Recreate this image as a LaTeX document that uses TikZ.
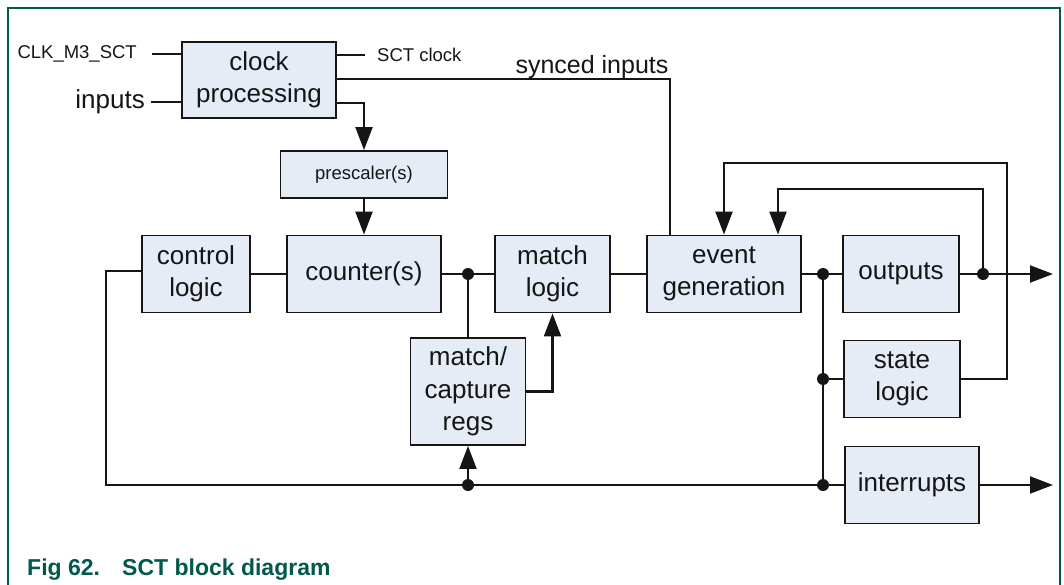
\documentclass[tikz,border=0pt]{standalone}
\usepackage{fontspec}
\setmainfont{Liberation Sans}
\usetikzlibrary{arrows.meta}
\definecolor{boxfill}{HTML}{E6ECF6}
\definecolor{nxpgreen}{HTML}{00594B}
\definecolor{ink}{HTML}{151515}
\begin{document}
\begin{tikzpicture}[x=1pt,y=-1pt,
  blk/.style={draw=ink, fill=boxfill, line width=1.9pt, align=center, inner sep=0pt, text=ink, font=\fontsize{26}{32.5}\selectfont},
  wire/.style={draw=ink, line width=2.1pt},
  arr/.style={wire, -{Triangle[length=23pt,width=17pt]}},
  dot/.style={circle, fill=ink, inner sep=0pt, minimum size=12pt},
  small/.style={font=\fontsize{18.5}{22}\selectfont, inner sep=0pt, text=ink},
  big/.style={font=\fontsize{26}{32}\selectfont, inner sep=0pt, text=ink},
  captxt/.style={font=\bfseries\fontsize{23}{28}\selectfont, inner sep=0pt, text=nxpgreen, anchor=base west},
]
\useasboundingbox (0,0) rectangle (1064,585);
% frame
\draw[nxpgreen, line width=1.6pt] (8,585) -- (8,8) -- (1060,8) -- (1060,585);

% blocks
\node[blk, minimum width=154pt, minimum height=76pt] (clk) at (259,80) {clock\\processing};
\node[blk, minimum width=167pt, minimum height=47pt, font=\fontsize{18.5}{22}\selectfont] (pre) at (364,174.5) {prescaler(s)};
\node[blk, minimum width=108pt, minimum height=77pt] (ctrl) at (196,274) {control\\logic};
\node[blk, minimum width=154pt, minimum height=77pt] (cnt) at (364,274) {counter(s)};
\node[blk, minimum width=115pt, minimum height=77pt] (mlog) at (552.5,274) {match\\logic};
\node[blk, minimum width=154pt, minimum height=77pt] (evt) at (724,274) {event\\generation};
\node[blk, minimum width=116pt, minimum height=77pt] (out) at (901,274) {outputs};
\node[blk, minimum width=116pt, minimum height=77pt] (state) at (902,379) {state\\logic};
\node[blk, minimum width=115pt, minimum height=107pt] (mcr) at (468,391.5) {match/\\capture\\regs};
\node[blk, minimum width=134pt, minimum height=77pt] (intr) at (912,485) {interrupts};

% text labels
\node[small, anchor=east] (clkin) at (137,54) {CLK\_M3\_SCT};
\node[big, anchor=east] (inp) at (145,102) {inputs};
\node[small, anchor=west] (sctclk) at (377,55) {SCT clock};
\node[big, font=\fontsize{25}{30}\selectfont] (synced) at (592,67) {synced inputs};

% dots
\node[dot] (d1) at (468,274) {};
\node[dot] (d2) at (823,274) {};
\node[dot] (d3) at (983,274) {};
\node[dot] (d4) at (823,379) {};
\node[dot] (d5) at (468,485) {};
\node[dot] (d6) at (823,485) {};

% helper coordinates
\coordinate (sy) at (670,79);
\coordinate (cp) at (364,103);
\coordinate (lb) at (106,485);
\coordinate (fb1) at (1007,163);
\coordinate (fb2) at (778,189);
\coordinate (outend) at (1053,274);
\coordinate (intend) at (1053,485);

% clock processing connections
\draw[wire, shorten <=15pt] (clkin.east) -- (clkin.east -| clk.west);
\draw[wire, shorten <=6pt] (inp.east) -- (inp.east -| clk.west);
\draw[wire, shorten >=12pt] (sctclk.west -| clk.east) -- (sctclk.west);
\draw[wire] (sy -| clk.east) -- (sy) -- (sy |- evt.north);
\draw[arr] (cp -| clk.east) -- (cp) -- (cp |- pre.north);
\draw[arr] (pre.south) -- (pre.south |- cnt.north);

% main row
\draw[wire] (ctrl) -- (cnt);
\draw[wire] (cnt) -- (mlog);
\draw[wire] (mlog) -- (evt);
\draw[wire] (evt) -- (out);
\draw[arr] (out.east) -- (outend);

% match/capture
\draw[wire] (d1) -- (mcr.north);
\draw[arr] (mcr.east) -| (mlog.south);
\draw[arr] (d5) -- (mcr.south);

% bottom loop
\draw[wire] ([yshift=3pt]ctrl.west) -| (lb) -- (intr.west);
\draw[arr] (intr.east) -- (intend);

% right side
\draw[wire] (d2) -- (d6);
\draw[wire] (d4) -- (state.west);
\draw[arr] (state.east) -| (fb1) -| (evt.north);
\draw[arr] (d3) |- (fb2) -- (fb2 |- evt.north);

% caption
\node[captxt] (fig) at (27,575) {Fig 62.};
\node[captxt] (title) at (122,575) {SCT block diagram};
\end{tikzpicture}
\end{document}
